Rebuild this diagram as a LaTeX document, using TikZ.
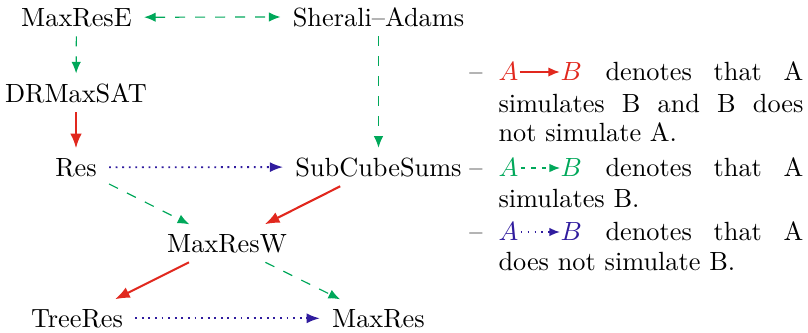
\documentclass[tikz,border=0pt]{standalone}
\usetikzlibrary{arrows.meta}
\definecolor{cred}{RGB}{225,40,30}
\definecolor{cgreen}{RGB}{0,168,90}
\definecolor{cblue}{RGB}{48,28,158}
\tikzset{
  sys/.style={inner xsep=4.5pt, inner ysep=3.5pt, anchor=base},
  txt/.style={inner sep=0pt, anchor=base west},
  strict/.style={cred, line width=0.8pt, -{Latex[length=5.6pt,width=4.4pt]}},
  simul/.style={cgreen, line width=0.45pt, dash pattern=on 3.8pt off 3.8pt, -{Latex[length=4.4pt,width=3.6pt]}},
  nosim/.style={cblue, line width=0.7pt, dash pattern=on 0.7pt off 1.8pt, -{Latex[length=5pt,width=3.8pt]}},
}
\begin{document}
\begin{tikzpicture}[x=0.38pt, y=-0.38pt]
\useasboundingbox (0,0) rectangle (808,333);
% systems
\node[sys] (mre) at (76.5,26) {MaxResE};
\node[sys] (sa)  at (378.5,26) {Sherali--Adams};
\node[sys] (dr)  at (76,102) {DRMaxSAT};
\node[sys] (res) at (76,176) {Res};
\node[sys] (scs) at (378.5,176) {SubCubeSums};
\node[sys] (mrw) at (227,252) {MaxResW};
\node[sys] (tr)  at (77,327) {TreeRes};
\node[sys] (mr)  at (378.5,327) {MaxRes};
% connectors
\draw[simul, {Latex[length=4.4pt,width=3.6pt]}-{Latex[length=4.4pt,width=3.6pt]}] (mre) -- (sa);
\draw[simul] (mre) -- (dr);
\draw[simul] (sa) -- (scs);
\draw[strict] (dr) -- (res);
\draw[nosim] (res) -- (scs);
\draw[simul] (res) -- (mrw);
\draw[strict] (scs) -- (mrw);
\draw[strict] (mrw) -- (tr);
\draw[simul] (mrw) -- (mr);
\draw[nosim] (tr) -- (mr);
% legend
\node[inner sep=0pt, anchor=base] (d1) at (476,80) {--};
\node[txt, text=cred] (a1) at (498,80) {$A$};
\node[txt, text=cred] (b1) at (560,80) {$B$};
\draw[cred, line width=0.8pt, -{Latex[length=4.4pt,width=3.6pt]}] ([xshift=0.3pt]a1.east |- 0,72) -- (b1.west |- 0,72);
\node[txt] (l1) at (605,80) {\makebox[75.2pt][s]{denotes that A}};
\node[txt] (l2) at (498,112) {\makebox[115.9pt][s]{simulates B and B does}};
\node[txt] (l3) at (498,141) {not simulate A.};
\node[inner sep=0pt, anchor=base] (d2) at (476,176) {--};
\node[txt, text=cgreen] (a2) at (498,176) {$A$};
\node[txt, text=cgreen] (b2) at (560,176) {$B$};
\draw[cgreen, line width=0.45pt, dash pattern=on 1.6pt off 2.4pt, -{Latex[length=4pt,width=3.2pt]}] ([xshift=0.8pt]a2.east |- 0,168) -- (b2.west |- 0,168);
\node[txt] (l4) at (605,176) {\makebox[75.2pt][s]{denotes that A}};
\node[txt] (l5) at (498,207) {simulates B.};
\node[inner sep=0pt, anchor=base] (d3) at (476,240) {--};
\node[txt, text=cblue] (a3) at (498,240) {$A$};
\node[txt, text=cblue] (b3) at (560,240) {$B$};
\draw[cblue, line width=0.6pt, dash pattern=on 0.6pt off 2pt, -{Latex[length=4pt,width=3.2pt]}] ([xshift=0.8pt]a3.east |- 0,232) -- (b3.west |- 0,232);
\node[txt] (l6) at (605,240) {\makebox[75.2pt][s]{denotes that A}};
\node[txt] (l7) at (498,270) {does not simulate B.};
\end{tikzpicture}
\end{document}
